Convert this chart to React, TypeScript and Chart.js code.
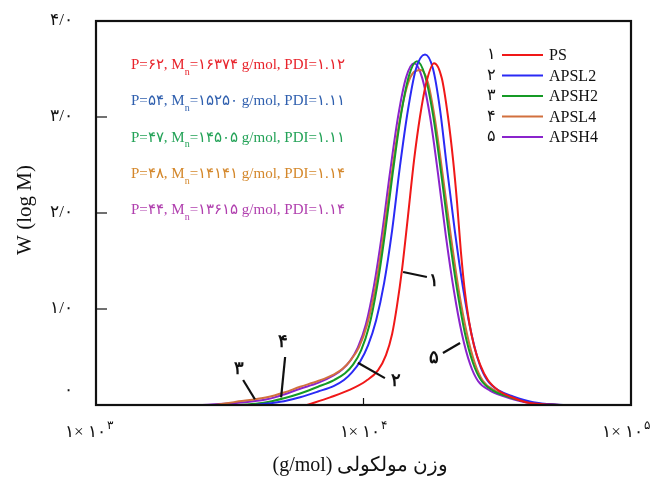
import React, { useEffect, useRef } from "react";
import { Chart, registerables } from "chart.js";
Chart.register(...registerables);

// ---- data (log10 of molecular weight, g/mol) and W(log M) ----
const seriesNames = ["PS", "APSL2", "APSH2", "APSL4", "APSH4"];
const seriesNums = ["۱", "۲", "۳", "۴", "۵"];
const seriesColors = ["#f01818", "#2a2af5", "#159a25", "#d2703e", "#8a24cc"];

const psLogM = [3.789, 3.875, 3.95, 4.009, 4.054, 4.084, 4.107, 4.125, 4.144, 4.166, 4.189, 4.211, 4.234, 4.264, 4.293, 4.316, 4.335, 4.35, 4.364, 4.379, 4.394, 4.413, 4.436, 4.465, 4.51, 4.555, 4.622, 4.753];
const psW = [0, 0.08, 0.16, 0.25, 0.36, 0.52, 0.74, 1.03, 1.41, 1.96, 2.55, 3.0, 3.35, 3.56, 3.4, 3.0, 2.55, 2.1, 1.6, 1.18, 0.88, 0.62, 0.42, 0.26, 0.14, 0.08, 0.02, 0];

const apsl2LogM = [3.594, 3.703, 3.763, 3.83, 3.89, 3.927, 3.957, 3.987, 4.017, 4.047, 4.077, 4.107, 4.136, 4.166, 4.196, 4.23, 4.26, 4.286, 4.312, 4.342, 4.372, 4.402, 4.432, 4.462, 4.507, 4.559, 4.634, 4.746];
const apsl2W = [0, 0.04, 0.08, 0.14, 0.2, 0.26, 0.34, 0.45, 0.62, 0.88, 1.27, 1.82, 2.48, 3.07, 3.5, 3.65, 3.5, 3.08, 2.47, 1.8, 1.22, 0.76, 0.44, 0.26, 0.15, 0.09, 0.03, 0];

const apsh2LogM = [3.538, 3.621, 3.703, 3.763, 3.83, 3.89, 3.931, 3.961, 3.991, 4.021, 4.05, 4.08, 4.11, 4.14, 4.17, 4.2, 4.23, 4.26, 4.29, 4.32, 4.35, 4.379, 4.409, 4.439, 4.484, 4.536, 4.611, 4.723];
const apsh2W = [0, 0.02, 0.07, 0.12, 0.19, 0.26, 0.33, 0.42, 0.57, 0.82, 1.22, 1.78, 2.43, 3.02, 3.43, 3.58, 3.43, 3.02, 2.42, 1.77, 1.2, 0.75, 0.44, 0.26, 0.15, 0.09, 0.03, 0];

const apsl4LogM = [3.445, 3.516, 3.639, 3.703, 3.763, 3.83, 3.89, 3.923, 3.953, 3.983, 4.013, 4.043, 4.073, 4.103, 4.133, 4.163, 4.189, 4.215, 4.241, 4.267, 4.297, 4.327, 4.357, 4.387, 4.417, 4.447, 4.492, 4.544, 4.619, 4.731];
const apsl4W = [0, 0.03, 0.08, 0.13, 0.19, 0.25, 0.32, 0.38, 0.47, 0.6, 0.83, 1.2, 1.74, 2.36, 2.93, 3.32, 3.47, 3.49, 3.36, 2.98, 2.38, 1.75, 1.18, 0.74, 0.43, 0.25, 0.15, 0.09, 0.03, 0];

const apsh4LogM = [3.389, 3.516, 3.639, 3.703, 3.763, 3.83, 3.89, 3.92, 3.95, 3.979, 4.009, 4.039, 4.069, 4.099, 4.129, 4.159, 4.189, 4.219, 4.249, 4.279, 4.308, 4.338, 4.368, 4.398, 4.428, 4.473, 4.525, 4.6, 4.712];
const apsh4W = [0, 0.02, 0.06, 0.11, 0.17, 0.23, 0.31, 0.37, 0.46, 0.6, 0.84, 1.24, 1.78, 2.42, 3.0, 3.41, 3.56, 3.41, 3.0, 2.4, 1.76, 1.19, 0.74, 0.43, 0.25, 0.15, 0.09, 0.03, 0];

const allLogM = [psLogM, apsl2LogM, apsh2LogM, apsl4LogM, apsh4LogM];
const allW = [psW, apsl2W, apsh2W, apsl4W, apsh4W];

// ticks
const yTicks = [0, 1, 2, 3, 4];
const yTickLabels = ["۰", "۱/۰", "۲/۰", "۳/۰", "۴/۰"];
const xTicks = [3, 4, 5];
const xTickBase = "۱× ۱۰";
const xTickExp = ["۳", "۴", "۵"];

// info lines
const infoP = ["۶۲", "۵۴", "۴۷", "۴۸", "۴۴"];
const infoMn = ["۱۶۳۷۴", "۱۵۲۵۰", "۱۴۵۰۵", "۱۴۱۴۱", "۱۳۶۱۵"];
const infoPDI = ["۱.۱۲", "۱.۱۱", "۱.۱۱", "۱.۱۴", "۱.۱۴"];
const infoColors = ["#e8232b", "#2f5fae", "#23a257", "#d4872a", "#b03fae"];

// callouts: [label, lineStartLogM, lineStartW, lineEndLogM, lineEndW, textLogM, textW]
const callouts: [string, number, number, number, number, number, number][] = [
  ["۱", 4.148, 1.385, 4.237, 1.333, 4.262, 1.29],
  ["۲", 3.979, 0.44, 4.08, 0.28, 4.12, 0.25],
  ["۳", 3.55, 0.26, 3.594, 0.06, 3.536, 0.37],
  ["۴", 3.707, 0.5, 3.692, 0.08, 3.699, 0.65],
  ["۵", 4.361, 0.646, 4.297, 0.542, 4.262, 0.49],
];

const SERIF = '"Liberation Serif", "Times New Roman", "DejaVu Serif", serif';

const decor = {
  id: "decor",
  afterDatasetsDraw(chart: any) {
    const { ctx, chartArea: a, scales } = chart;
    const xs = scales.x;
    const ys = scales.y;
    ctx.save();
    ctx.strokeStyle = "#111";
    ctx.fillStyle = "#111";
    // frame
    ctx.lineWidth = 2.2;
    ctx.strokeRect(a.left, a.top, a.right - a.left, a.bottom - a.top);
    // inward ticks
    ctx.lineWidth = 1.2;
    yTicks.forEach((v) => {
      if (v > 0 && v < 4) {
        const y = ys.getPixelForValue(v);
        ctx.beginPath();
        ctx.moveTo(a.left, y);
        ctx.lineTo(a.left + 11, y);
        ctx.stroke();
      }
    });
    xTicks.forEach((v) => {
      if (v > 3 && v < 5) {
        const x = xs.getPixelForValue(v);
        ctx.beginPath();
        ctx.moveTo(x, a.bottom);
        ctx.lineTo(x, a.bottom - 7);
        ctx.stroke();
      }
    });
    // y tick labels
    ctx.font = `17px ${SERIF}`;
    ctx.textAlign = "right";
    ctx.textBaseline = "middle";
    yTicks.forEach((v, i) => {
      const y = ys.getPixelForValue(v);
      ctx.fillText(yTickLabels[i], a.left - 23, v === 0 ? y - 14 : y);
    });
    // x tick labels
    xTicks.forEach((v, i) => {
      ctx.font = `17px ${SERIF}`;
      const bw = ctx.measureText(xTickBase).width;
      ctx.font = `12px ${SERIF}`;
      const ew = ctx.measureText(xTickExp[i]).width;
      const tw = bw + ew + 1;
      let cx = xs.getPixelForValue(v);
      if (i === 0) cx -= 7;
      cx = Math.min(cx, chart.width - tw / 2 - 1);
      const x0 = cx - tw / 2;
      const y = a.bottom + 28;
      ctx.textAlign = "left";
      ctx.textBaseline = "middle";
      ctx.font = `17px ${SERIF}`;
      ctx.fillText(xTickBase, x0, y);
      ctx.font = `12px ${SERIF}`;
      ctx.fillText(xTickExp[i], x0 + bw + 1, y - 7);
    });
    // axis titles
    ctx.save();
    ctx.translate(25, 210);
    ctx.rotate(-Math.PI / 2);
    ctx.textAlign = "center";
    ctx.textBaseline = "middle";
    ctx.font = `21px ${SERIF}`;
    ctx.fillText("W (log M)", 0, 0);
    ctx.restore();
    ctx.save();
    ctx.direction = "rtl";
    ctx.textAlign = "center";
    ctx.textBaseline = "middle";
    ctx.font = `20px ${SERIF}`;
    ctx.fillText("وزن مولکولی (g/mol)", (a.left + a.right) / 2 - 3, a.bottom + 61);
    ctx.restore();
    // legend
    ctx.textBaseline = "middle";
    seriesNames.forEach((name, i) => {
      const y = a.top + 34 + i * 20.5;
      ctx.font = `16px ${SERIF}`;
      ctx.fillStyle = "#111";
      ctx.textAlign = "right";
      ctx.fillText(seriesNums[i], a.left + 400, y);
      ctx.strokeStyle = seriesColors[i];
      ctx.lineWidth = 2;
      ctx.beginPath();
      ctx.moveTo(a.left + 406, y);
      ctx.lineTo(a.left + 447, y);
      ctx.stroke();
      ctx.textAlign = "left";
      ctx.fillText(name, a.left + 453, y + 1);
    });
    // info lines
    infoP.forEach((p, i) => {
      const y = a.top + 44 + i * 36.3;
      let x = a.left + 35;
      ctx.fillStyle = infoColors[i];
      ctx.textAlign = "left";
      ctx.textBaseline = "middle";
      ctx.font = `15px ${SERIF}`;
      const s1 = `P=${p}, M`;
      ctx.fillText(s1, x, y);
      x += ctx.measureText(s1).width;
      ctx.font = `10px ${SERIF}`;
      ctx.fillText("n", x, y + 7);
      x += ctx.measureText("n").width;
      ctx.font = `15px ${SERIF}`;
      ctx.fillText(`=${infoMn[i]} g/mol, PDI=${infoPDI[i]}`, x, y);
    });
    // callouts
    callouts.forEach(([lab, l1, w1, l2, w2, lt, wt]) => {
      const x1 = xs.getPixelForValue(l1);
      const y1 = ys.getPixelForValue(w1);
      const x2 = xs.getPixelForValue(l2);
      const y2 = ys.getPixelForValue(w2);
      ctx.strokeStyle = "#111";
      ctx.lineWidth = 2.2;
      ctx.beginPath();
      ctx.moveTo(x1, y1);
      ctx.lineTo(x2, y2);
      ctx.stroke();
      ctx.fillStyle = "#111";
      ctx.font = `bold 18px ${SERIF}`;
      ctx.textAlign = "center";
      ctx.textBaseline = "middle";
      ctx.fillText(lab, xs.getPixelForValue(lt), ys.getPixelForValue(wt));
    });
    ctx.restore();
  },
};

export default function App() {
  const ref = useRef<HTMLCanvasElement | null>(null);
  useEffect(() => {
    if (!ref.current) return;
    const chart = new Chart(ref.current, {
      type: "line",
      data: {
        datasets: seriesNames.map((name, i) => ({
          label: name,
          data: allLogM[i].map((x, j) => ({ x, y: allW[i][j] })),
          borderColor: seriesColors[i],
          borderWidth: 2,
          pointRadius: 0,
          fill: false,
          cubicInterpolationMode: "monotone" as const,
        })),
      },
      options: {
        animation: false,
        responsive: true,
        maintainAspectRatio: false,
        layout: { padding: { left: 96, right: 20, top: 21, bottom: 74 } },
        plugins: { legend: { display: false }, tooltip: { enabled: false } },
        scales: {
          x: { type: "linear", min: 3, max: 5, display: false },
          y: { min: 0, max: 4, display: false },
        },
      },
      plugins: [decor],
    });
    return () => chart.destroy();
  }, []);
  return (
    <div style={{ position: "fixed", left: 0, top: 0, width: 651, height: 479, background: "#fff" }}>
      <canvas ref={ref} />
    </div>
  );
}
